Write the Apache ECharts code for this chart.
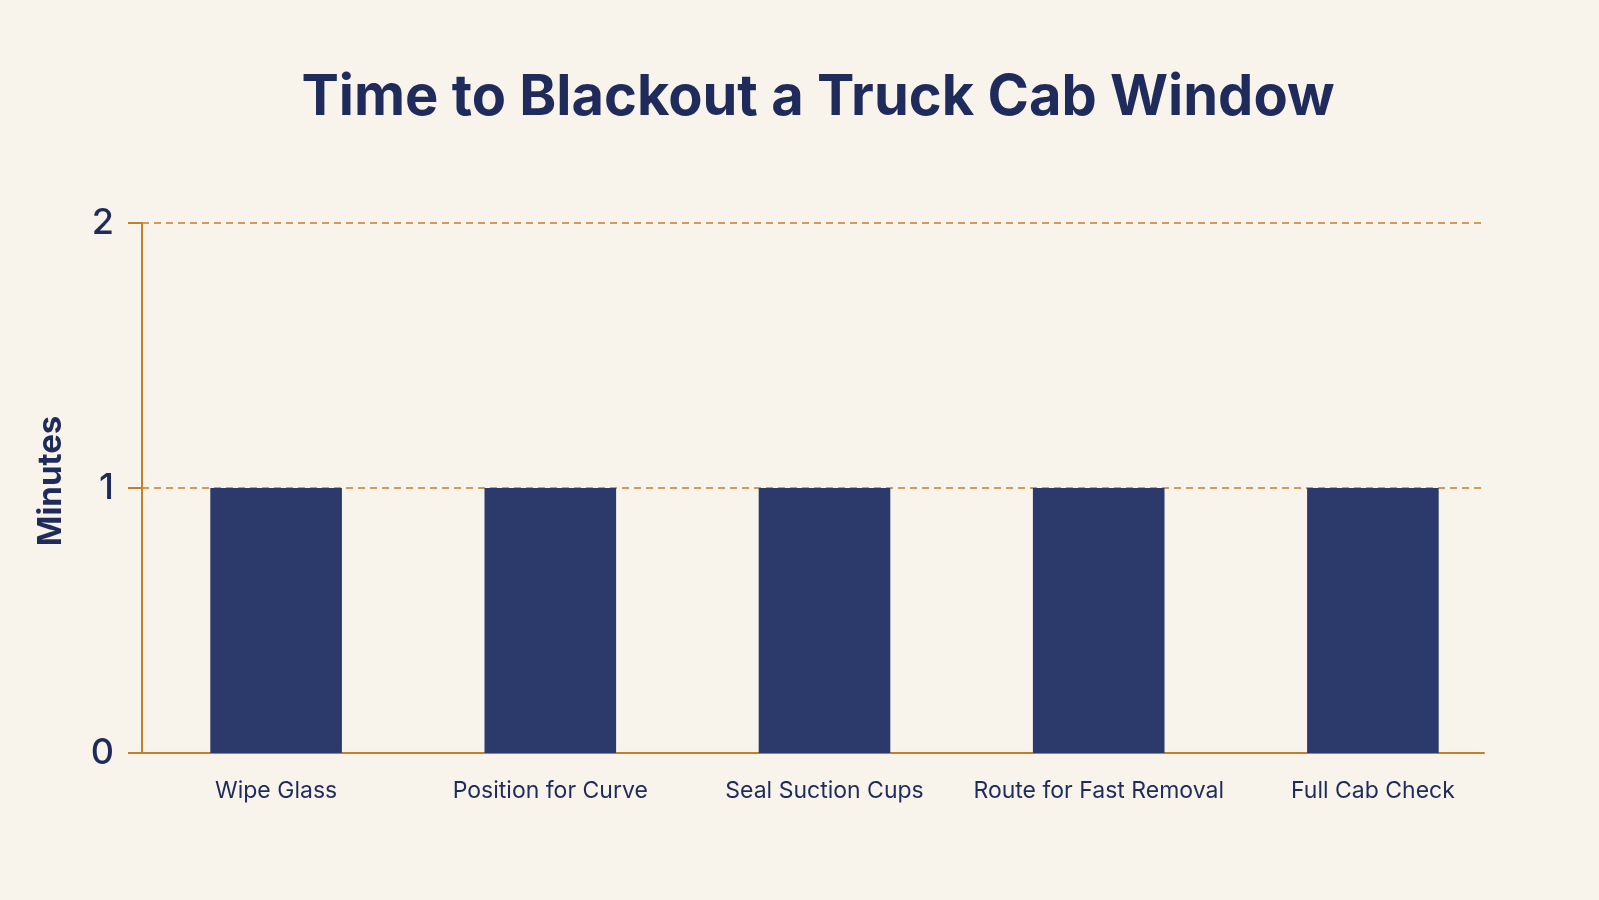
<!DOCTYPE html>
<html lang="en">
<head>
    <meta charset="UTF-8">
    <title>Time to Blackout a Truck Cab Window</title>
    <script src="https://cdn.jsdelivr.net/npm/echarts@6/dist/echarts.min.js"></script>
    <style type="text/css">
        html, body {
            margin: 0;
            padding: 0;
            background: #f8f4eb;
        }
        #main {
            width: 1599px;
            height: 900px;
        }
    </style>
</head>
<body>
<div id="main"></div>
<script>
    var steps = ['Wipe Glass', 'Position for Curve', 'Seal Suction Cups', 'Route for Fast Removal', 'Full Cab Check'];
    var minutes = [1, 1, 1, 1, 1];

    var navy = '#1f2b5b';
    var orange = '#c47f2a';

    var myChart = echarts.init(document.getElementById('main'));
    // grid 0 draws the frame (axis lines, ticks, dashed lines), grid 1 holds the bars
    var option = {
        backgroundColor: '#f8f4eb',
        textStyle: {
            fontFamily: 'Inter'
        },
        title: {
            text: 'Time to Blackout a Truck Cab Window',
            left: 813,
            textAlign: 'center',
            top: 65,
            textStyle: {
                fontFamily: 'Inter',
                fontSize: 56,
                fontWeight: 'bold',
                color: navy
            }
        },
        grid: [
            { left: 142, right: 115, top: 223, bottom: 147 },
            { left: 139, right: 89, top: 223, bottom: 147 }
        ],
        xAxis: [
            {
                type: 'category',
                gridIndex: 0,
                data: steps,
                axisLine: {
                    lineStyle: { color: orange, width: 2 }
                },
                axisTick: { show: false },
                axisLabel: { show: false }
            },
            {
                type: 'category',
                gridIndex: 1,
                data: steps,
                axisLine: { show: false },
                axisTick: { show: false },
                axisLabel: {
                    interval: 0,
                    color: navy,
                    fontSize: 23,
                    margin: 27
                }
            }
        ],
        yAxis: [
            {
                type: 'value',
                gridIndex: 0,
                min: 0,
                max: 2,
                interval: 1,
                name: 'Minutes',
                nameLocation: 'middle',
                nameGap: 74,
                nameTextStyle: {
                    color: navy,
                    fontSize: 33,
                    fontWeight: 'bold',
                    padding: [0, 0, 0, 14]
                },
                axisLine: {
                    show: true,
                    lineStyle: { color: orange, width: 2 }
                },
                axisTick: {
                    show: true,
                    length: 14,
                    lineStyle: { color: orange, width: 2 }
                },
                axisLabel: {
                    color: navy,
                    fontSize: 36,
                    fontWeight: 500,
                    margin: 28
                },
                splitLine: {
                    lineStyle: { color: orange, type: [7, 5], width: 1.5 }
                }
            },
            {
                type: 'value',
                gridIndex: 1,
                min: 0,
                max: 2,
                interval: 1,
                show: false
            }
        ],
        series: [
            {
                name: 'Minutes',
                type: 'bar',
                xAxisIndex: 1,
                yAxisIndex: 1,
                data: minutes,
                barWidth: '48%',
                itemStyle: { color: '#2b3a6b' }
            }
        ]
    };
    myChart.setOption(option);
</script>
</body>
</html>
